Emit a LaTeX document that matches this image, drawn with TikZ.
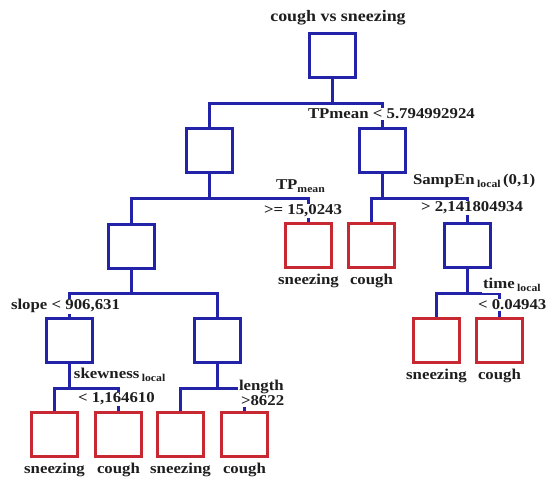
\documentclass[tikz,border=0pt]{standalone}
\usepackage{fontspec}
\setmainfont[FakeStretch=1.12]{Liberation Serif}
\definecolor{tblue}{RGB}{35,35,170}
\definecolor{tred}{RGB}{200,40,50}
\definecolor{ttext}{RGB}{30,30,30}
\newcommand{\sbx}[1]{\raisebox{-0.4ex}{\fontsize{10.5}{10.5}\selectfont #1}}
\begin{document}
\begin{tikzpicture}[x=1pt,y=-1pt,
  inbox/.style={draw=tblue, line width=3pt, minimum width=46pt, minimum height=44pt, inner sep=0pt},
  leafbox/.style={draw=tred, line width=3pt, minimum width=46pt, minimum height=44pt, inner sep=0pt},
  conn/.style={draw=tblue, line width=3pt},
  lbl/.style={font=\fontsize{15}{15}\selectfont\bfseries, text=ttext, inner sep=0.8pt, fill=white, anchor=base west},
  leaflbl/.style={font=\fontsize{15}{15}\selectfont\bfseries, text=ttext, inner sep=0pt, anchor=base},
  ]
\useasboundingbox (0,0) rectangle (547,481);

% boxes
\node[inbox] (root) at (332.5,55.5) {};
\node[inbox] (A) at (209.5,150.5) {};
\node[inbox] (B) at (382.5,150.5) {};
\node[inbox] (C) at (131.5,246.5) {};
\node[leafbox] (L1) at (308.5,245.5) {};
\node[leafbox] (L2) at (371.5,245.5) {};
\node[inbox] (D) at (467.5,245.5) {};
\node[inbox] (E) at (69.5,340.5) {};
\node[inbox] (F) at (217.5,340.5) {};
\node[leafbox] (L3) at (436.5,340.5) {};
\node[leafbox] (L4) at (499.5,340.5) {};
\node[leafbox] (L5) at (54.5,434.5) {};
\node[leafbox] (L6) at (118.5,434.5) {};
\node[leafbox] (L7) at (180.5,434.5) {};
\node[leafbox] (L8) at (244.5,434.5) {};

% junctions
\coordinate (j0) at (332.5,103.5);
\coordinate (jA) at (209.5,198.5);
\coordinate (jB) at (382.5,198.5);
\coordinate (jC) at (131.5,293.5);
\coordinate (jD) at (467.5,293.5);
\coordinate (jE) at (69.5,388.5);
\coordinate (jF) at (217.5,388.5);

% connectors
\draw[conn] (root) -- (j0);
\draw[conn] (A) |- (j0) -| (B);
\draw[conn] (A) -- (jA);
\draw[conn] (C) |- (jA) -| (L1);
\draw[conn] (B) -- (jB);
\draw[conn] (L2) |- (jB) -| (D);
\draw[conn] (C) -- (jC);
\draw[conn] (E) |- (jC) -| (F);
\draw[conn] (D) -- (jD);
\draw[conn] (L3) |- (jD) -| (L4);
\draw[conn] (E) -- (jE);
\draw[conn] (L5) |- (jE) -| (L6);
\draw[conn] (F) -- (jF);
\draw[conn] (L7) |- (jF) -| (L8);

% condition labels
\node[font=\fontsize{16}{16}\selectfont\bfseries, text=ttext, anchor=base] (title) at (338,22) {cough vs sneezing};
\node[lbl] (c0) at (307,119) {TPmean < 5.794992924};
\node[lbl] (cA1) at (275,190) {TP\sbx{mean}};
\node[lbl] (cA2) at (263,215) {>= 15,0243};
\node[lbl] (cB1) at (412,185) {SampEn\,\sbx{local}\,(0,1)};
\node[lbl] (cB2) at (420,212) {> 2,141804934};
\node[lbl] (cD1) at (482,289) {time\,\sbx{local}};
\node[lbl] (cD2) at (477,310) {< 0.04943};
\node[lbl] (cC) at (10,310) {slope < 906,631};
\node[lbl] (cE1) at (73,379) {skewness\,\sbx{local}};
\node[lbl] (cE2) at (77,403) {< 1,164610};
\node[lbl] (cF1) at (238,391) {length};
\node[lbl] (cF2) at (240,406) {>8622};

% leaf labels
\node[leaflbl] (t1) at (L1.south |- 0,285) {sneezing};
\node[leaflbl] (t2) at (L2.south |- 0,285) {cough};
\node[leaflbl] (t3) at (L3.south |- 0,380) {sneezing};
\node[leaflbl] (t4) at (L4.south |- 0,380) {cough};
\node[leaflbl] (t5) at (L5.south |- 0,474) {sneezing};
\node[leaflbl] (t6) at (L6.south |- 0,474) {cough};
\node[leaflbl] (t7) at (L7.south |- 0,474) {sneezing};
\node[leaflbl] (t8) at (L8.south |- 0,474) {cough};
\end{tikzpicture}
\end{document}
